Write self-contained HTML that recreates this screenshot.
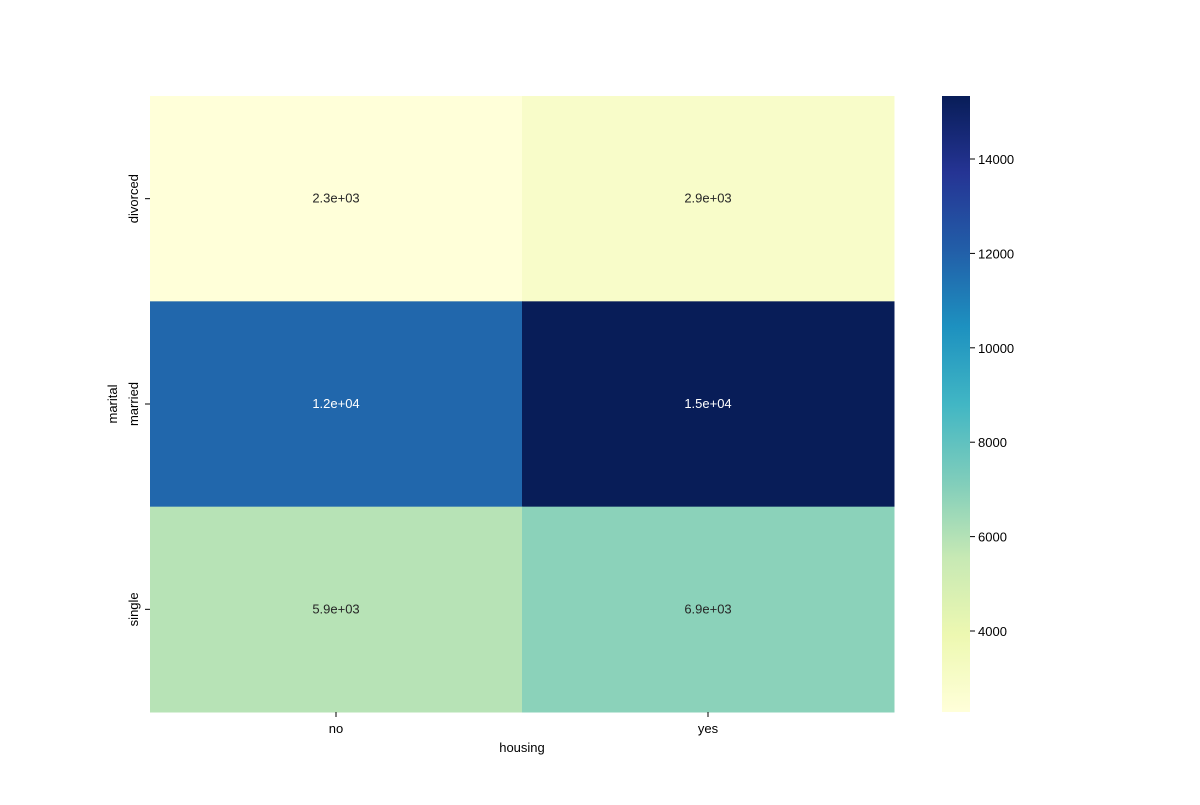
<!DOCTYPE html>
<html><head><meta charset="utf-8"><style>
body{margin:0;background:#fff;font-family:"Liberation Sans","DejaVu Sans",sans-serif;}
svg text{font-family:"Liberation Sans","DejaVu Sans",sans-serif;font-size:13px;}
</style></head><body>
<svg id="chart" width="1200" height="800" xmlns="http://www.w3.org/2000/svg">
<defs><linearGradient id="cbg" x1="0" y1="1" x2="0" y2="0">
<stop offset="0" stop-color="#ffffd9"/><stop offset="0.125" stop-color="#edf8b1"/><stop offset="0.25" stop-color="#c7e9b4"/><stop offset="0.375" stop-color="#7fcdbb"/><stop offset="0.5" stop-color="#41b6c4"/><stop offset="0.625" stop-color="#1d91c0"/><stop offset="0.75" stop-color="#225ea8"/><stop offset="0.875" stop-color="#253494"/><stop offset="1" stop-color="#081d58"/>
</linearGradient></defs>
<g id="cells"></g>
<g id="axes"></g>
</svg>
<script>
const rows = ['divorced','married','single'];
const cols = ['no','yes'];
const values = [[2284,2920],[11800,15335],[5900,6900]];
const labels = [['2.3e+03','2.9e+03'],['1.2e+04','1.5e+04'],['5.9e+03','6.9e+03']];
const cbTicks = [4000,6000,8000,10000,12000,14000];
const vmin = 2284, vmax = 15335;
const stops = ['#ffffd9','#edf8b1','#c7e9b4','#7fcdbb','#41b6c4','#1d91c0','#225ea8','#253494','#081d58'];
const L=150,R=894,T=96,B=712;
const NS='http://www.w3.org/2000/svg';
const cw=(R-L)/cols.length, ch=(B-T)/rows.length;
function hex(h){return [1,3,5].map(i=>parseInt(h.substr(i,2),16));}
function cmap(v){let t=(v-vmin)/(vmax-vmin);t=Math.max(0,Math.min(1,t))*(stops.length-1);
 const i=Math.min(Math.floor(t),stops.length-2),f=t-i;const a=hex(stops[i]),b=hex(stops[i+1]);
 return 'rgb('+a.map((x,k)=>Math.round(x+(b[k]-x)*f)).join(',')+')';}
function lum(v){let t=(v-vmin)/(vmax-vmin);return t>0.55;}
function mk(tag,attrs,parent,txt){const e=document.createElementNS(NS,tag);for(const k in attrs)e.setAttribute(k,attrs[k]);if(txt!==undefined)e.textContent=txt;parent.appendChild(e);return e;}
const cells=document.getElementById('cells'), ax=document.getElementById('axes');
rows.forEach((r,i)=>cols.forEach((c,j)=>{
 const x=L+j*cw,y=T+i*ch;
 const rc=mk('rect',{x:x,y:y,width:cw+0.5,height:ch+0.5,fill:cmap(values[i][j])},cells);
 
 
 const t=mk('text',{x:x+cw/2,y:y+ch/2+4,'text-anchor':'middle',fill:lum(values[i][j])?'#ffffff':'#262626'},cells,labels[i][j]);
 
 
}));
rows.forEach((r,i)=>{const y=T+(i+0.5)*ch;
 mk('line',{x1:L-5,x2:L,y1:y,y2:y,stroke:'#000'},ax);
 const t=mk('text',{x:0,y:0,transform:'translate('+(L-12)+','+y+') rotate(-90)','text-anchor':'middle'},ax,r);
 
 });
cols.forEach((c,j)=>{const x=L+(j+0.5)*cw;
 mk('line',{x1:x,x2:x,y1:B,y2:B+5,stroke:'#000'},ax);
 const t=mk('text',{x:x,y:B+21,'text-anchor':'middle'},ax,c);
 
 });
let t=mk('text',{x:(L+R)/2,y:752,'text-anchor':'middle'},ax,'housing');


t=mk('text',{x:0,y:0,transform:'translate(117,'+(T+B)/2+') rotate(-90)','text-anchor':'middle'},ax,'marital');


const CX=942,CW=28;
const cb=mk('rect',{x:CX,y:T,width:CW,height:B-T,fill:'url(#cbg)'},ax);


cbTicks.forEach(v=>{const y=B-(v-vmin)/(vmax-vmin)*(B-T);
 mk('line',{x1:CX+CW,x2:CX+CW+5,y1:y,y2:y,stroke:'#000'},ax);
 const tt=mk('text',{x:CX+CW+8,y:y+5},ax,String(v));
 
 });
</script>
</body></html>
